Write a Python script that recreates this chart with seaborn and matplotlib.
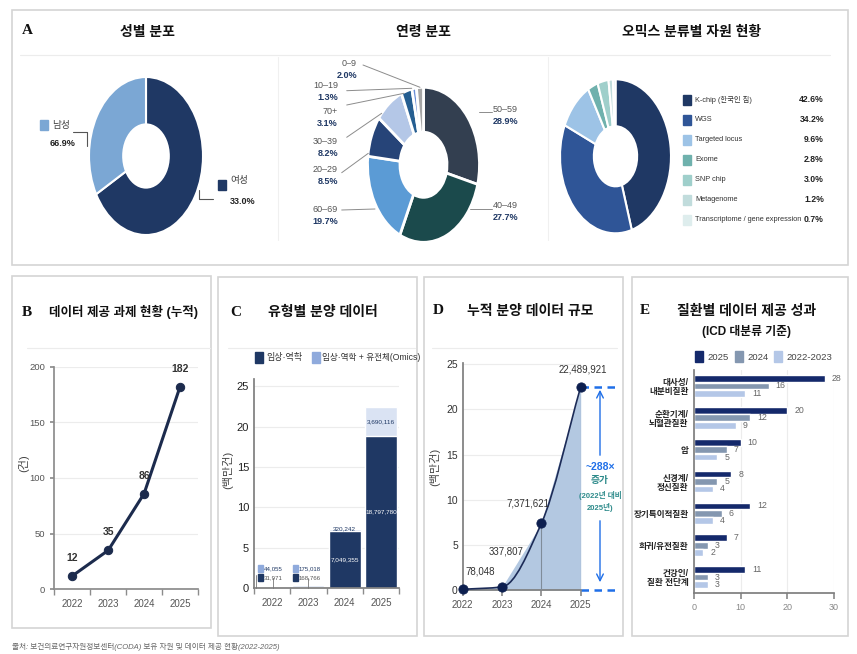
import numpy as np
import pandas as pd
import matplotlib.pyplot as plt
from matplotlib.patches import Rectangle, PathPatch
from matplotlib.path import Path
import seaborn as sns

W, H = 857, 654

# A: 성별 분포 (조각 크기는 그림 그대로, 진한 조각이 큰 쪽)
gender_names = ['남성', '여성']
gender_pct = [66.9, 33.0]
gender_wedges = [66.9, 33.0]
gender_colors = ['#1f3864', '#7ba7d4']

# A: 연령 분포 (12시 방향부터 시계방향)
age_groups = ['50–59', '40–49', '60–69', '20–29', '30–39', '70+', '10–19', '0–9']
age_pct = [28.9, 27.7, 19.7, 8.5, 8.2, 3.1, 1.3, 2.0]
age_colors = ['#333f50', '#1b4a4c', '#5b9bd5', '#264478', '#b4c7e7', '#255e91', '#6a8fd8', '#a6a6a6']

# A: 오믹스 분류별 자원
omics_types = ['K-chip (한국인 칩)', 'WGS', 'Targeted locus', 'Exome', 'SNP chip',
               'Metagenome', 'Transcriptome / gene expression']
omics_pct = [42.6, 34.2, 9.6, 2.8, 3.0, 1.2, 0.7]
omics_colors = ['#1f3864', '#2f5597', '#9dc3e6', '#6fb1ad', '#9fcfcb', '#c1dcdc', '#deeded']

# B: 데이터 제공 과제 (누적)
years = ['2022', '2023', '2024', '2025']
projects_cum = [12, 35, 86, 182]

# C: 유형별 분양 데이터
clinical = [31971, 168766, 7049355, 18797780]
clinical_omics = [44055, 175018, 320242, 3690116]

# D: 누적 분양 데이터 규모
d_years = [2022, 2023, 2024, 2025]
cum_records = [78048, 337807, 7371621, 22489921]

# E: 질환별 데이터 제공 성과
diseases = ['대사성/\n내분비질환', '순환기계/\n뇌혈관질환', '암', '신경계/\n정신질환',
            '장기특이적질환', '희귀/유전질환', '건강인/\n질환 전단계']
periods = ['2025', '2024', '2022-2023']
d2025 = [28, 20, 10, 8, 12, 7, 11]
d2024 = [16, 12, 7, 5, 6, 3, 3]
d2223 = [11, 9, 5, 4, 4, 2, 3]
period_colors = ['#14296b', '#8497b0', '#b4c7e7']

sns.set_theme(style='white')
plt.rcParams['font.family'] = ['Liberation Sans', 'Noto Sans CJK KR', 'DejaVu Sans']
plt.rcParams['axes.facecolor'] = 'none'

fig = plt.figure(figsize=(W / 100, H / 100), dpi=100)

# overlay in screen pixels (y down)
ov = fig.add_axes([0, 0, 1, 1])
ov.set_xlim(0, W)
ov.set_ylim(H, 0)
ov.axis('off')
ov.set_zorder(10)


def px_axes(x0, y0, x1, y1):
    return fig.add_axes([x0 / W, 1 - y1 / H, (x1 - x0) / W, (y1 - y0) / H])


def donut(ax, vals, colors, hole=0.4, lw=1.5):
    ax.pie(vals, colors=colors, startangle=90, counterclock=False,
           wedgeprops=dict(width=1 - hole, edgecolor='white', linewidth=lw))
    ax.set_aspect('auto')
    ax.set_xlim(-1, 1)
    ax.set_ylim(-1, 1)


LETTER = dict(family='Liberation Serif', fontweight='bold', fontsize=11, va='center', color='#111')
TITLE = dict(fontweight='bold', fontsize=10, ha='center', va='center', color='#111')
GRID = '#ececec'
SPINE = '#8c8c8c'

# panel frames
for x0, y0, x1, y1 in [(12, 10, 848, 265), (12, 276, 211, 628), (218, 277, 417, 636),
                       (424, 277, 623, 636), (632, 277, 848, 636)]:
    ov.add_patch(Rectangle((x0, y0), x1 - x0, y1 - y0, fill=False, ec='#d4d4d4', lw=1.2))
ov.plot([20, 830], [55, 55], color='#ececec', lw=0.8)
ov.plot([278, 278], [57, 240], color='#f0f0f0', lw=0.8)
ov.plot([548, 548], [57, 240], color='#f0f0f0', lw=0.8)
for x0, x1 in [(27, 210), (228, 415), (432, 617)]:
    ov.plot([x0, x1], [348, 348], color='#ececec', lw=0.8)

# ---------------- A ----------------
ov.text(22, 31, 'A', **LETTER)
ov.text(147, 32, '성별 분포', **TITLE)
ov.text(423, 32, '연령 분포', **TITLE)
ov.text(692, 32, '오믹스 분류별 자원 현황', **TITLE)

axG = px_axes(89, 77, 203, 235)
donut(axG, gender_wedges, gender_colors, hole=0.4)
ov.add_patch(Rectangle((40, 120), 8, 10, color='#7ba7d4'))
ov.text(52, 125, gender_names[0], fontsize=7, va='center', color='#444')
ov.text(50, 143, f'{gender_pct[0]}%', fontsize=6.5, fontweight='bold', va='center', color='#222')
ov.plot([73, 87, 87], [132, 132, 146], color='#555', lw=0.8)
ov.add_patch(Rectangle((218, 180), 8, 10, color='#1f3864'))
ov.text(230, 180, gender_names[1], fontsize=7, va='center', color='#444')
ov.text(230, 201, f'{gender_pct[1]}%', fontsize=6.5, fontweight='bold', va='center', color='#222')
ov.plot([199, 199, 213], [190, 199, 199], color='#555', lw=0.8)

axAge = px_axes(367.5, 87.3, 479.5, 242.3)
donut(axAge, age_pct, age_colors, hole=0.42, lw=2)
# label anchor (text x, text y, alignment) and leader line ends
age_label_pos = {
    '50–59': (493, 109, 'left', (491.7, 112.3), (479.3, 112.3)),
    '40–49': (493, 205, 'left', (491.7, 209.3), (470, 209.3)),
    '60–69': (338, 209, 'right', (341.7, 210), (375, 209)),
    '20–29': (338, 170, 'right', (341.7, 172.7), (368.3, 153.3)),
    '30–39': (338, 141, 'right', (346.7, 137.3), (381.7, 113.3)),
    '70+': (338, 112, 'right', (346.7, 105), (404, 93.3)),
    '10–19': (338, 86, 'right', (346.7, 90.7), (411.7, 88.3)),
    '0–9': (357, 64, 'right', (363, 65), (420, 87.3)),
}
for grp, pct in zip(age_groups, age_pct):
    tx, ty, ha, p0, p1 = age_label_pos[grp]
    ov.text(tx, ty, grp, ha=ha, va='center', fontsize=6.5, color='#555')
    ov.text(tx, ty + 12, f'{pct}%', ha=ha, va='center', fontsize=6.5, fontweight='bold', color='#1f3864')
    ov.plot([p0[0], p1[0]], [p0[1], p1[1]], color='#8c8c8c', lw=0.7)

axO = px_axes(560, 79.3, 671, 233.3)
donut(axO, omics_pct, omics_colors, hole=0.39)
for i, (name, pct, col) in enumerate(zip(omics_types, omics_pct, omics_colors)):
    y = 99.5 + i * 20
    ov.add_patch(Rectangle((683, y - 5), 8, 10, color=col))
    ov.text(695, y, name, va='center', fontsize=5.3, color='#333')
    ov.text(824, y, f'{pct}%', ha='right', va='center', fontsize=6.2, fontweight='bold', color='#222')

# ---------------- B ----------------
ov.text(22, 312, 'B', **LETTER)
ov.text(124, 312, '데이터 제공 과제 현황 (누적)', **{**TITLE, 'fontsize': 9})
axB = px_axes(54.3, 366.7, 198, 589.3)
sns.lineplot(x=np.arange(len(years)), y=projects_cum, ax=axB, color='#1c2b4d', lw=2.2,
             marker='o', markersize=6, markeredgecolor='#1c2b4d')
axB.set_xlim(-0.5, 3.5)
axB.set_ylim(0, 200)
axB.set_xticks(range(len(years)))
axB.set_xticklabels(years)
axB.set_xticks(np.arange(-0.5, 4, 1), minor=True)
axB.tick_params(axis='x', which='major', length=0, labelsize=7, labelcolor='#555', pad=7)
axB.tick_params(axis='x', which='minor', length=4, color=SPINE, direction='out', bottom=True)
axB.set_yticks([0, 50, 100, 150, 200])
axB.tick_params(axis='y', length=3, color=SPINE, labelsize=6.8, labelcolor='#555', left=True)
axB.grid(axis='y', color=GRID, lw=0.8)
for s in ['top', 'right']:
    axB.spines[s].set_visible(False)
for s in ['left', 'bottom']:
    axB.spines[s].set_color(SPINE)
for i, v in enumerate(projects_cum):
    axB.annotate(str(v), (i, v), xytext=(0, 13), textcoords='offset points', ha='center',
                 va='center', fontsize=7.5, fontweight='bold', color='#333')
ov.text(24, 463, '(건)', rotation=90, ha='center', va='center', fontsize=8, color='#444')

# ---------------- C ----------------
ov.text(230, 312, 'C', **LETTER)
ov.text(323, 312, '유형별 분양 데이터', **TITLE)
ov.add_patch(Rectangle((255, 352), 8, 11, color='#1f3864'))
ov.text(266, 357.5, '임상·역학', va='center', fontsize=6.5, color='#333')
ov.add_patch(Rectangle((312, 352), 8, 11, color='#8faadc'))
ov.text(322, 357.5, '임상·역학 + 유전체(Omics)', va='center', fontsize=6.2, color='#333')

axC = px_axes(254, 379, 399, 588)
c_total = np.array(clinical) + np.array(clinical_omics)
sns.barplot(x=years, y=c_total / 1e6, color='#dae3f3', width=0.88, saturation=1,
            errorbar=None, ax=axC)
sns.barplot(x=years, y=np.array(clinical) / 1e6, color='#1f3864', width=0.88, saturation=1,
            errorbar=None, ax=axC)
axC.set_ylim(0, 25.9)
axC.set_yticks([0, 5, 10, 15, 20, 25])
axC.set_xlabel('')
axC.set_ylabel('')
axC.tick_params(axis='y', labelsize=8, labelcolor='#222', length=0)
axC.tick_params(axis='x', labelsize=7, labelcolor='#555', length=0, pad=7)
axC.set_xticks(np.arange(-0.5, 4, 1), minor=True)
axC.tick_params(axis='x', which='minor', length=4, color=SPINE, bottom=True)
axC.grid(axis='y', color=GRID, lw=0.8)
axC.set_axisbelow(True)
for s in ['top', 'right']:
    axC.spines[s].set_visible(False)
for s in ['left', 'bottom']:
    axC.spines[s].set_color('#7f7f7f')
for i in [2, 3]:
    axC.text(i, clinical[i] / 2e6, f'{clinical[i]:,}', ha='center', va='center',
             fontsize=4.6, color='white')
axC.text(3, (clinical[3] + c_total[3]) / 2e6, f'{clinical_omics[3]:,}', ha='center',
         va='center', fontsize=4.6, color='#1f3864')
axC.text(2, c_total[2] / 1e6, f'{clinical_omics[2]:,}', ha='center', va='center',
         fontsize=4.6, color='#1f3864')
for x0, i in [(258.3, 0), (293.3, 1)]:
    ov.add_patch(Rectangle((x0, 565), 4.5, 7, color='#8faadc'))
    ov.text(x0 + 5.5, 568.5, f'{clinical_omics[i]:,}', fontsize=4.4, va='center', color='#1f3864')
    ov.add_patch(Rectangle((x0, 574), 4.5, 7, color='#1f3864'))
    ov.text(x0 + 5.5, 577.5, f'{clinical[i]:,}', fontsize=4.4, va='center', color='#555')
for x, y0 in [(256, 575), (272.7, 578), (308, 578)]:
    ov.plot([x, x], [y0, 588], color='#777', lw=0.6)
ov.text(228, 470, '(백만건)', rotation=90, ha='center', va='center', fontsize=8, color='#444')

# ---------------- D ----------------
ov.text(433, 311, 'D', **LETTER)
ov.text(530, 311, '누적 분양 데이터 규모', **TITLE)
axD = px_axes(462.7, 363.3, 580.7, 590)
d_vals = np.array(cum_records) / 1e6
axD.fill_between(d_years, d_vals, color='#b3c8e1', lw=0)
# smooth line through the points (monotone cubic bezier)
xs = np.array(d_years, float)
sec = np.diff(d_vals) / np.diff(xs)
m = np.empty_like(d_vals)
m[0], m[-1] = sec[0], sec[-1]
m[1:-1] = 2 / (1 / sec[:-1] + 1 / sec[1:])
verts, codes = [(xs[0], d_vals[0])], [Path.MOVETO]
for k in range(len(xs) - 1):
    h = xs[k + 1] - xs[k]
    verts += [(xs[k] + h / 3, d_vals[k] + m[k] * h / 3),
              (xs[k + 1] - h / 3, d_vals[k + 1] - m[k + 1] * h / 3),
              (xs[k + 1], d_vals[k + 1])]
    codes += [Path.CURVE4] * 3
axD.add_patch(PathPatch(Path(verts, codes), fill=False, ec='#1c2b57', lw=1.2, zorder=4))
axD.vlines(d_years[2:], 0, d_vals[2:], color='#7f8c99', lw=0.8, zorder=3)
sns.scatterplot(x=d_years, y=d_vals, ax=axD, s=45, color='#0d1f4f', edgecolor='#0d1f4f',
                zorder=5, clip_on=False)
axD.set_xlim(2022, 2025)
axD.set_ylim(0, 25.1)
axD.set_xticks(d_years)
axD.set_xticklabels([str(y) for y in d_years])
axD.set_yticks([0, 5, 10, 15, 20, 25])
axD.tick_params(axis='x', labelsize=7, labelcolor='#555', length=4, color=SPINE, bottom=True)
axD.tick_params(axis='y', labelsize=7.5, labelcolor='#333', length=0)
axD.grid(axis='y', color=GRID, lw=0.8)
axD.set_axisbelow(True)
for s in ['top', 'right']:
    axD.spines[s].set_visible(False)
for s in ['left', 'bottom']:
    axD.spines[s].set_color('#7f7f7f')
for v in [d_vals[-1], 0]:
    axD.plot([2025, 2025.92], [v, v], ls='--', dashes=(3, 2.2), color='#1f6fe8', lw=1.8,
             clip_on=False)
for (tx, ty), v in zip([(480, 571.7), (506, 551), (528, 503), (582.7, 370)], cum_records):
    ov.text(tx, ty, f'{v:,}', ha='center', va='center', fontsize=7, color='#333')
ov.annotate('', xy=(600, 387), xytext=(600, 458),
            arrowprops=dict(arrowstyle='->', color='#1f6fe8', lw=1))
ov.annotate('', xy=(600, 585), xytext=(600, 518),
            arrowprops=dict(arrowstyle='->', color='#1f6fe8', lw=1))
ov.text(600, 466.7, '~288×', ha='center', va='center', fontsize=7.5, fontweight='bold', color='#1f6fe8')
ov.text(600, 480, '증가', ha='center', va='center', fontsize=7, fontweight='bold', color='#2e8b8b')
ov.text(600, 495, '(2022년 대비', ha='center', va='center', fontsize=5.5, fontweight='bold', color='#2e8b8b')
ov.text(600, 507.7, '2025년)', ha='center', va='center', fontsize=5.5, fontweight='bold', color='#2e8b8b')
ov.text(435, 467, '(백만건)', rotation=90, ha='center', va='center', fontsize=8, color='#444')

# ---------------- E ----------------
ov.text(640, 311, 'E', **LETTER)
ov.text(747, 311, '질환별 데이터 제공 성과', **TITLE)
ov.text(747, 332, '(ICD 대분류 기준)', **{**TITLE, 'fontsize': 8.5})
for (sx, tx), lab, col in zip([(695, 707), (735, 747), (774, 786)], periods, period_colors):
    ov.add_patch(Rectangle((sx, 351), 8, 11, color=col))
    ov.text(tx, 357, lab, va='center', fontsize=6.8, color='#444')

e_df = pd.DataFrame({
    '질환': diseases * 3,
    '건수': d2025 + d2024 + d2223,
    '기간': [periods[0]] * 7 + [periods[1]] * 7 + [periods[2]] * 7,
})
axE = px_axes(694, 370, 834, 593)
sns.barplot(data=e_df, y='질환', x='건수', hue='기간', orient='h', palette=period_colors,
            width=0.7, gap=0.1, saturation=1, legend=False, ax=axE)
for cont in axE.containers:
    axE.bar_label(cont, padding=5, fontsize=6.3, color='#666')
axE.set_xlim(0, 30)
axE.set_xticks([0, 10, 20, 30])
axE.set_xlabel('')
axE.set_ylabel('')
axE.tick_params(axis='x', labelsize=6.5, labelcolor='#888', length=4, color=SPINE, bottom=True)
axE.tick_params(axis='y', length=0, pad=4)
for lab in axE.get_yticklabels():
    lab.set_fontsize(6.2)
    lab.set_fontweight('bold')
    lab.set_color('#222')
    lab.set_linespacing(1.05)
axE.grid(axis='x', color=GRID, lw=0.8)
axE.set_axisbelow(True)
for s in ['top', 'right']:
    axE.spines[s].set_visible(False)
for s in ['left', 'bottom']:
    axE.spines[s].set_color('#7f7f7f')

ov.text(12, 647, '출처: 보건의료연구자원정보센터(CODA) 보유 자원 및 데이터 제공 현황(2022-2025)',
        fontsize=5.5, style='italic', color='#666', va='center')

fig.savefig('out.png', dpi=100)
